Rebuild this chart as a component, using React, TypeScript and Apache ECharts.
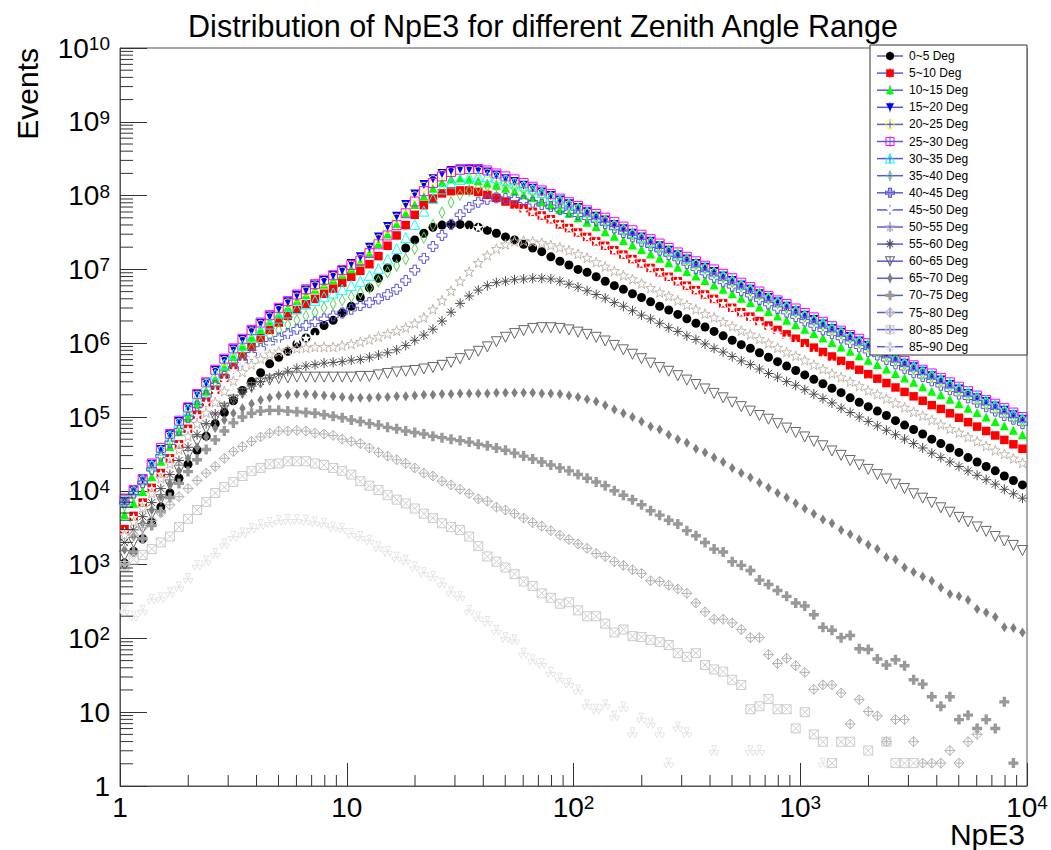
import React, { useEffect, useRef } from "react";
import * as echarts from "echarts";

// ---------------- data ----------------
// NpE3 histogram: 25 log-spaced bins per decade, 1 .. 1e4 (bin centres)
const binMantissa = [1.047, 1.148, 1.259, 1.380, 1.514, 1.660, 1.820, 1.995, 2.188, 2.399, 2.630, 2.884, 3.162, 3.467, 3.802, 4.169, 4.571, 5.012, 5.495, 6.026, 6.607, 7.244, 7.943, 8.710, 9.550];
const binDecades = [1, 10, 100, 1000];
const npe3BinCenters = binDecades.flatMap((d) => binMantissa.map((m) => +(m * d).toPrecision(4)));

const zenithLabels = ["0~5 Deg", "5~10 Deg", "10~15 Deg", "15~20 Deg", "20~25 Deg", "25~30 Deg", "30~35 Deg", "35~40 Deg", "40~45 Deg", "45~50 Deg", "50~55 Deg", "55~60 Deg", "60~65 Deg", "65~70 Deg", "70~75 Deg", "75~80 Deg", "80~85 Deg", "85~90 Deg"];

// log10(Events) per NpE3 bin (null = empty bin)
const logEvents_0_5 = [3.02,3.18,3.35,3.57,3.78,3.97,4.17,4.36,4.55,4.74, 4.91,5.06,5.22,5.36,5.48,5.60,5.72,5.81,5.89,5.99, 6.07,6.15,6.24,6.31,6.41,6.50,6.62,6.75,6.88,7.02, 7.15,7.29,7.40,7.49,7.57,7.60,7.61,7.61,7.60,7.57, 7.53,7.49,7.44,7.40,7.34,7.29,7.24,7.17,7.11,7.06, 7.00,6.96,6.90,6.84,6.78,6.73,6.67,6.62,6.56,6.50, 6.45,6.39,6.33,6.27,6.22,6.16,6.10,6.04,5.98,5.93, 5.87,5.81,5.75,5.69,5.63,5.57,5.51,5.45,5.39,5.33, 5.26,5.20,5.14,5.08,5.02,4.95,4.89,4.83,4.77,4.70, 4.64,4.58,4.52,4.45,4.39,4.33,4.27,4.20,4.14,4.08];
const logEvents_5_10 = [3.48,3.66,3.84,4.04,4.24,4.44,4.63,4.84,5.03,5.20, 5.37,5.53,5.68,5.82,5.95,6.07,6.18,6.28,6.37,6.45, 6.53,6.60,6.67,6.74,6.82,6.90,6.98,7.07,7.18,7.32, 7.46,7.60,7.74,7.87,7.96,8.03,8.06,8.07,8.07,8.05, 8.01,7.97,7.92,7.88,7.83,7.78,7.73,7.68,7.61,7.56, 7.50,7.44,7.38,7.32,7.26,7.20,7.14,7.08,7.02,6.96, 6.90,6.84,6.78,6.72,6.66,6.60,6.54,6.48,6.42,6.36, 6.30,6.24,6.18,6.12,6.06,6.00,5.94,5.88,5.82,5.76, 5.70,5.64,5.58,5.52,5.46,5.40,5.34,5.28,5.22,5.16, 5.11,5.05,4.99,4.93,4.87,4.81,4.75,4.69,4.63,4.57];
const logEvents_10_15 = [3.68,3.83,3.99,4.19,4.40,4.60,4.80,4.99,5.18,5.35, 5.52,5.68,5.82,5.96,6.08,6.19,6.30,6.40,6.49,6.58, 6.66,6.73,6.80,6.86,6.93,7.01,7.10,7.22,7.35,7.48, 7.62,7.76,7.88,7.99,8.10,8.18,8.23,8.24,8.22,8.20, 8.17,8.14,8.10,8.06,8.01,7.97,7.92,7.87,7.81,7.76, 7.70,7.64,7.58,7.51,7.45,7.39,7.33,7.27,7.21,7.15, 7.09,7.03,6.97,6.91,6.85,6.79,6.73,6.67,6.61,6.55, 6.49,6.43,6.37,6.31,6.25,6.19,6.13,6.07,6.01,5.95, 5.89,5.83,5.77,5.71,5.65,5.59,5.53,5.47,5.41,5.35, 5.30,5.24,5.18,5.12,5.06,5.00,4.94,4.88,4.82,4.76];
const logEvents_15_20 = [3.86,4.00,4.15,4.36,4.56,4.76,4.94,5.13,5.31,5.46, 5.63,5.78,5.92,6.05,6.17,6.27,6.37,6.47,6.56,6.65, 6.72,6.79,6.85,6.92,6.99,7.08,7.17,7.30,7.44,7.58, 7.72,7.88,8.02,8.15,8.23,8.30,8.34,8.36,8.36,8.35, 8.32,8.28,8.23,8.19,8.14,8.10,8.05,8.00,7.94,7.89, 7.84,7.78,7.72,7.67,7.61,7.55,7.49,7.44,7.38,7.32, 7.26,7.20,7.14,7.08,7.03,6.97,6.91,6.85,6.79,6.73, 6.67,6.62,6.56,6.50,6.44,6.38,6.32,6.26,6.20,6.15, 6.09,6.03,5.97,5.91,5.85,5.79,5.73,5.68,5.62,5.56, 5.50,5.44,5.38,5.32,5.26,5.21,5.15,5.09,5.03,4.97];
const logEvents_20_25 = [3.85,3.99,4.14,4.34,4.54,4.74,4.92,5.11,5.29,5.45, 5.61,5.76,5.90,6.03,6.15,6.25,6.35,6.45,6.54,6.62, 6.70,6.77,6.83,6.90,6.97,7.05,7.14,7.27,7.41,7.55, 7.69,7.85,7.99,8.12,8.21,8.28,8.32,8.34,8.34,8.33, 8.30,8.26,8.21,8.17,8.12,8.08,8.03,7.98,7.92,7.87, 7.82,7.76,7.70,7.65,7.59,7.53,7.47,7.42,7.36,7.30, 7.24,7.18,7.12,7.06,7.01,6.95,6.89,6.83,6.77,6.71, 6.65,6.60,6.54,6.48,6.42,6.36,6.30,6.24,6.18,6.13, 6.07,6.01,5.95,5.89,5.83,5.77,5.71,5.66,5.60,5.54, 5.48,5.42,5.36,5.30,5.24,5.19,5.13,5.07,5.01,4.95];
const logEvents_25_30 = [3.88,4.01,4.16,4.37,4.58,4.77,4.95,5.13,5.31,5.47, 5.64,5.79,5.93,6.06,6.18,6.28,6.38,6.48,6.57,6.66, 6.73,6.80,6.86,6.92,6.99,7.06,7.12,7.22,7.34,7.46, 7.60,7.76,7.92,8.06,8.17,8.26,8.32,8.35,8.36,8.36, 8.34,8.30,8.26,8.22,8.17,8.12,8.07,8.02,7.96,7.91, 7.86,7.80,7.75,7.70,7.64,7.58,7.53,7.47,7.41,7.35, 7.29,7.23,7.17,7.11,7.05,7.00,6.94,6.88,6.82,6.76, 6.70,6.64,6.58,6.53,6.47,6.41,6.35,6.29,6.23,6.17, 6.11,6.06,6.00,5.94,5.88,5.82,5.76,5.70,5.64,5.59, 5.53,5.47,5.41,5.35,5.29,5.23,5.18,5.12,5.06,5.00];
const logEvents_30_35 = [3.86,4.00,4.15,4.35,4.55,4.74,4.92,5.10,5.27,5.43, 5.58,5.72,5.85,5.97,6.08,6.17,6.26,6.34,6.41,6.47, 6.53,6.58,6.63,6.68,6.73,6.78,6.84,6.92,7.01,7.14, 7.28,7.43,7.61,7.79,7.96,8.09,8.17,8.22,8.25,8.26, 8.26,8.24,8.21,8.17,8.13,8.09,8.04,7.99,7.94,7.89, 7.83,7.78,7.72,7.67,7.61,7.55,7.50,7.44,7.38,7.32, 7.26,7.21,7.15,7.09,7.03,6.97,6.92,6.86,6.80,6.74, 6.68,6.63,6.57,6.51,6.45,6.39,6.33,6.28,6.22,6.16, 6.10,6.04,5.99,5.93,5.87,5.81,5.75,5.69,5.64,5.58, 5.52,5.46,5.40,5.35,5.29,5.23,5.17,5.11,5.05,4.99];
const logEvents_35_40 = [3.80,3.93,4.08,4.27,4.46,4.65,4.83,5.01,5.18,5.33, 5.47,5.60,5.72,5.83,5.93,6.02,6.10,6.18,6.25,6.31, 6.37,6.42,6.48,6.53,6.58,6.63,6.68,6.75,6.84,6.96, 7.05,7.14,7.28,7.43,7.60,7.77,7.91,8.01,8.07,8.11, 8.13,8.13,8.12,8.10,8.07,8.04,8.00,7.96,7.91,7.86, 7.81,7.76,7.71,7.66,7.60,7.54,7.48,7.42,7.36,7.30, 7.25,7.19,7.13,7.07,7.01,6.95,6.89,6.83,6.77,6.71, 6.66,6.60,6.54,6.48,6.42,6.36,6.30,6.24,6.18,6.13, 6.07,6.01,5.95,5.89,5.83,5.77,5.71,5.65,5.59,5.54, 5.48,5.42,5.36,5.30,5.24,5.18,5.12,5.06,5.00,4.95];
const logEvents_40_45 = [3.84,3.97,4.11,4.29,4.47,4.65,4.82,4.99,5.15,5.29, 5.43,5.55,5.66,5.76,5.85,5.93,6.00,6.07,6.13,6.19, 6.24,6.29,6.33,6.37,6.41,6.46,6.51,6.55,6.60,6.66, 6.73,6.85,6.99,7.15,7.31,7.46,7.61,7.74,7.84,7.91, 7.95,7.97,7.96,7.95,7.93,7.91,7.88,7.85,7.81,7.78, 7.74,7.70,7.66,7.62,7.56,7.50,7.44,7.38,7.32,7.26, 7.20,7.14,7.08,7.01,6.95,6.89,6.83,6.77,6.71,6.65, 6.59,6.53,6.47,6.42,6.36,6.30,6.24,6.18,6.13,6.07, 6.01,5.95,5.89,5.84,5.78,5.72,5.66,5.60,5.55,5.49, 5.43,5.37,5.31,5.26,5.20,5.14,5.08,5.02,4.97,4.91];
const logEvents_45_50 = [3.45,3.64,3.83,4.03,4.23,4.44,4.63,4.83,5.02,5.19, 5.35,5.50,5.63,5.74,5.83,5.90,5.95,5.99,6.02,6.05, 6.07,6.09,6.11,6.13,6.15,6.17,6.20,6.23,6.27,6.32, 6.38,6.50,6.66,6.83,7.00,7.16,7.30,7.42,7.51,7.57, 7.63,7.69,7.74,7.78,7.80,7.78,7.73,7.68,7.62,7.56, 7.50,7.44,7.38,7.32,7.26,7.20,7.14,7.08,7.02,6.96, 6.90,6.84,6.78,6.72,6.66,6.60,6.54,6.48,6.42,6.35, 6.28,6.21,6.14,6.07,6.00,5.93,5.86,5.79,5.73,5.66, 5.60,5.53,5.47,5.40,5.34,5.28,5.21,5.15,5.09,5.02, 4.96,4.90,4.84,4.77,4.71,4.65,4.59,4.53,4.47,4.41];
const logEvents_50_55 = [3.40,3.58,3.77,3.97,4.17,4.37,4.56,4.74,4.91,5.06, 5.20,5.35,5.49,5.61,5.71,5.79,5.85,5.89,5.91,5.93, 5.94,5.95,5.95,5.95,5.97,5.99,6.02,6.05,6.09,6.13, 6.17,6.21,6.27,6.35,6.46,6.58,6.71,6.84,6.97,7.09, 7.19,7.28,7.34,7.38,7.39,7.38,7.36,7.33,7.30,7.26, 7.21,7.16,7.10,7.04,6.98,6.92,6.87,6.81,6.75,6.69, 6.64,6.58,6.52,6.46,6.40,6.35,6.29,6.23,6.17,6.12, 6.06,6.00,5.94,5.88,5.83,5.77,5.71,5.65,5.59,5.54, 5.48,5.42,5.36,5.31,5.25,5.19,5.13,5.07,5.02,4.96, 4.90,4.84,4.79,4.73,4.67,4.61,4.55,4.50,4.44,4.38];
const logEvents_55_60 = [3.30,3.47,3.65,3.84,4.03,4.22,4.41,4.59,4.76,4.91, 5.04,5.15,5.25,5.34,5.42,5.48,5.53,5.58,5.62,5.66, 5.69,5.71,5.73,5.74,5.75,5.77,5.78,5.81,5.84,5.87, 5.91,5.97,6.04,6.11,6.19,6.30,6.42,6.54,6.64,6.72, 6.78,6.82,6.84,6.86,6.87,6.88,6.88,6.87,6.84,6.80, 6.76,6.71,6.66,6.61,6.55,6.50,6.44,6.38,6.33,6.27, 6.21,6.16,6.10,6.05,5.99,5.93,5.88,5.82,5.76,5.71, 5.65,5.59,5.54,5.48,5.43,5.37,5.31,5.25,5.19,5.12, 5.06,5.00,4.94,4.88,4.82,4.76,4.70,4.64,4.58,4.51, 4.45,4.39,4.33,4.27,4.21,4.15,4.09,4.02,3.96,3.90];
const logEvents_60_65 = [3.12,3.30,3.49,3.68,3.88,4.08,4.28,4.48,4.67,4.84, 4.99,5.12,5.23,5.32,5.40,5.46,5.50,5.52,5.53,5.54, 5.54,5.54,5.54,5.54,5.54,5.54,5.55,5.55,5.57,5.59, 5.61,5.62,5.63,5.65,5.67,5.70,5.74,5.79,5.84,5.89, 5.95,6.02,6.08,6.13,6.17,6.20,6.21,6.21,6.20,6.18, 6.15,6.12,6.08,6.03,5.97,5.91,5.85,5.79,5.73,5.67, 5.62,5.56,5.50,5.44,5.38,5.32,5.26,5.20,5.14,5.08, 5.02,4.97,4.91,4.85,4.79,4.73,4.67,4.61,4.54,4.48, 4.41,4.35,4.29,4.22,4.16,4.09,4.03,3.96,3.90,3.84, 3.77,3.71,3.64,3.58,3.51,3.45,3.38,3.32,3.26,3.19];
const logEvents_65_70 = [3.20,3.38,3.56,3.74,3.92,4.10,4.27,4.44,4.59,4.73, 4.85,4.96,5.05,5.12,5.18,5.23,5.26,5.29,5.30,5.31, 5.31,5.30,5.29,5.28,5.27,5.26,5.26,5.26,5.27,5.27, 5.28,5.28,5.29,5.30,5.30,5.31,5.31,5.32,5.32,5.32, 5.32,5.33,5.33,5.33,5.33,5.33,5.32,5.32,5.31,5.29, 5.27,5.24,5.21,5.16,5.10,5.05,5.00,4.94,4.87,4.83, 4.76,4.70,4.65,4.57,4.52,4.45,4.39,4.31,4.24,4.18, 4.11,4.04,3.97,3.91,3.83,3.76,3.69,3.61,3.56,3.47, 3.41,3.34,3.27,3.21,3.10,3.07,2.96,2.90,2.84,2.78, 2.69,2.60,2.57,2.52,2.40,2.35,2.29,2.15,2.14,2.08];
const logEvents_70_75 = [3.00,3.17,3.35,3.53,3.72,3.91,4.10,4.26,4.42,4.56, 4.69,4.81,4.92,5.00,5.05,5.08,5.09,5.09,5.08,5.07, 5.06,5.05,5.03,5.01,4.99,4.96,4.94,4.91,4.89,4.86, 4.84,4.81,4.79,4.77,4.74,4.72,4.70,4.68,4.66,4.63, 4.61,4.58,4.55,4.51,4.47,4.43,4.39,4.35,4.31,4.27, 4.22,4.17,4.12,4.07,4.00,3.94,3.88,3.81,3.73,3.67, 3.60,3.55,3.46,3.39,3.30,3.21,3.17,3.04,2.99,2.92, 2.79,2.73,2.65,2.57,2.48,2.44,2.32,2.15,2.11,2.01, 2.04,1.86,1.85,1.72,1.64,1.71,1.63,1.44,1.38,1.21, 1.08,1.21,0.90,0.96,0.78,0.90,0.78,1.14,0.31,null];
const logEvents_75_80 = [3.30,3.40,3.50,3.60,3.70,3.81,3.92,4.03,4.14,4.24, 4.33,4.44,4.53,4.60,4.67,4.73,4.78,4.81,4.81,4.82, 4.81,4.78,4.77,4.75,4.70,4.67,4.64,4.58,4.52,4.47, 4.42,4.37,4.31,4.24,4.20,4.13,4.08,4.02,3.96,3.89, 3.86,3.78,3.74,3.69,3.63,3.57,3.52,3.46,3.40,3.34, 3.28,3.22,3.15,3.11,3.04,2.99,2.93,2.88,2.78,2.77, 2.72,2.67,2.61,2.48,2.36,2.26,2.26,2.21,2.12,2.01, 2.01,1.78,1.66,1.73,1.63,1.54,1.31,1.37,1.37,1.26, 0.84,1.17,1.01,0.95,0.60,0.90,0.90,0.60,0.31,0.31, 0.31,0.48,0.31,0.60,0.70,null,null,null,null,null];
const logEvents_80_85 = [2.98,3.07,3.13,3.21,3.30,3.38,3.51,3.62,3.74,3.85, 3.97,4.05,4.12,4.20,4.27,4.31,4.36,4.37,4.40,4.40, 4.40,4.37,4.35,4.31,4.27,4.22,4.13,4.07,4.01,3.94, 3.88,3.83,3.76,3.69,3.63,3.56,3.51,3.47,3.38,3.25, 3.11,3.04,2.96,2.87,2.77,2.71,2.61,2.55,2.47,2.49, 2.38,2.30,2.30,2.20,2.08,2.12,2.03,2.02,1.98,1.95, 1.91,1.80,1.75,1.80,1.64,1.58,1.55,1.44,1.37,1.04, 1.08,1.18,1.04,1.04,0.78,1.00,0.70,0.60,0.31,0.60, 0.60,null,0.48,null,0.60,0.31,0.31,0.31,null,null, null,null,null,null,null,null,null,null,null,null];
const logEvents_85_90 = [2.38,2.30,2.38,2.53,2.55,2.62,2.70,2.81,2.99,3.05, 3.15,3.28,3.38,3.43,3.49,3.54,3.57,3.60,3.61,3.61, 3.60,3.58,3.56,3.51,3.49,3.42,3.38,3.33,3.24,3.18, 3.10,3.06,2.97,2.89,2.84,2.75,2.63,2.57,2.38,2.29, 2.23,2.11,2.01,1.98,1.80,1.71,1.66,1.54,1.46,1.39, 1.30,1.10,1.04,1.10,0.95,1.07,0.72,0.92,0.85,0.72, 0.31,0.80,0.72,null,null,0.48,null,null,null,0.48, 0.48,null,null,null,null,null,null,0.31,null,null, null,null,null,null,null,null,null,null,null,null, null,null,null,null,null,null,null,null,null,null];

const allLogEvents = [logEvents_0_5, logEvents_5_10, logEvents_10_15, logEvents_15_20, logEvents_20_25, logEvents_25_30, logEvents_30_35, logEvents_35_40, logEvents_40_45, logEvents_45_50, logEvents_50_55, logEvents_55_60, logEvents_60_65, logEvents_65_70, logEvents_70_75, logEvents_75_80, logEvents_80_85, logEvents_85_90];

// minor tick multipliers for the log axes
const minorMultipliers = [2, 3, 4, 5, 6, 7, 8, 9];
const xDecades = [1, 10, 100, 1000];
const yDecades = [1, 10, 100, 1e3, 1e4, 1e5, 1e6, 1e7, 1e8, 1e9];

// ---------------- marker shapes (ROOT marker styles 20..37) ----------------
const PATHS: Record<string, string> = {
  circle: "M0,5A5,5 0 1 1 10,5A5,5 0 1 1 0,5Z",
  square: "M0,0H10V10H0Z",
  triUp: "M5,0L10,10H0Z",
  triDown: "M0,0H10L5,10Z",
  diamond: "M5,0L10,5L5,10L0,5Z",
  cross: "M3.3,0H6.7V3.3H10V6.7H6.7V10H3.3V6.7H0V3.3H3.3Z",
  star: "M5,0L6.18,3.38L9.76,3.45L6.9,5.62L7.94,9.05L5,7L2.06,9.05L3.1,5.62L0.24,3.45L3.82,3.38Z",
  aster: "M5,0V10M0,5H10M1.5,1.5L8.5,8.5M8.5,1.5L1.5,8.5",
  diaCross: "M5,0L10,5L5,10L0,5ZM5,0V10M0,5H10",
  sqX: "M0,0H10V10H0ZM0,0L10,10M10,0L0,10",
  tri3: "M5,5L2.5,0.67H7.5ZM5,5L0,5L2.5,9.33ZM5,5H10L7.5,9.33Z",
};

type Marker = { shape: string; color: string; filled: boolean; w: number; h: number };
const markers: Marker[] = [
  { shape: "circle", color: "#000000", filled: true, w: 9, h: 9 },
  { shape: "square", color: "#ff0000", filled: true, w: 8.5, h: 8.5 },
  { shape: "triUp", color: "#00ff00", filled: true, w: 9, h: 9 },
  { shape: "triDown", color: "#0000ff", filled: true, w: 9, h: 9 },
  { shape: "circle", color: "#ffff00", filled: false, w: 9, h: 9 },
  { shape: "square", color: "#ff00ff", filled: false, w: 9, h: 9 },
  { shape: "triUp", color: "#00ffff", filled: false, w: 10, h: 10 },
  { shape: "diamond", color: "#59d454", filled: false, w: 6, h: 11 },
  { shape: "cross", color: "#5954d9", filled: false, w: 10, h: 10 },
  { shape: "star", color: "#ffffff", filled: true, w: 10, h: 10 },
  { shape: "star", color: "#c0b6ac", filled: false, w: 10, h: 10 },
  { shape: "aster", color: "#4c4c4c", filled: false, w: 10, h: 10 },
  { shape: "triDown", color: "#666666", filled: false, w: 10, h: 10 },
  { shape: "diamond", color: "#7f7f7f", filled: true, w: 6.5, h: 10 },
  { shape: "cross", color: "#999999", filled: true, w: 10, h: 10 },
  { shape: "diaCross", color: "#b2b2b2", filled: false, w: 10, h: 10 },
  { shape: "sqX", color: "#cccccc", filled: false, w: 9, h: 9 },
  { shape: "tri3", color: "#e5e5e5", filled: false, w: 10, h: 10 },
];

let shapesRegistered = false;
function registerShapes() {
  if (shapesRegistered) return;
  Object.keys(PATHS).forEach((k) => {
    echarts.graphic.registerShape("mk_" + k, echarts.graphic.extendPath(PATHS[k], {}) as any);
  });
  shapesRegistered = true;
}

const FONT = "Liberation Sans, Arial, Helvetica, sans-serif";

function logLabel(v: number) {
  const e = Math.round(Math.log10(v));
  if (e === 0) return "{b|1}";
  if (e === 1) return "{b|10}";
  return "{b|10}{s|" + e + "}";
}

const labelRich = {
  b: { fontSize: 28, fontFamily: FONT, color: "#000", lineHeight: 28, padding: [8, 0, 8, 0] },
  s: { fontSize: 19, fontFamily: FONT, color: "#000", lineHeight: 19, verticalAlign: "top" },
};

export default function App() {
  const ref = useRef<HTMLDivElement>(null);
  useEffect(() => {
    if (!ref.current) return;
    registerShapes();
    const chart = echarts.init(ref.current, undefined, { renderer: "svg" });

    const scatterSeries = allLogEvents.map((logs, i) => {
      const m = markers[i];
      const data = npe3BinCenters
        .map((x, k) => (logs[k] == null ? null : [x, Math.pow(10, logs[k] as number)]))
        .filter((d) => d !== null);
      return {
        type: "scatter",
        name: zenithLabels[i],
        data,
        symbol: "path://" + PATHS[m.shape],
        symbolSize: [m.w, m.h],
        itemStyle: m.filled
          ? { color: m.color, borderWidth: 0, opacity: 1 }
          : { color: "rgba(0,0,0,0)", borderColor: m.color, borderWidth: 1, opacity: 1 },
        emphasis: { disabled: true },
        silent: true,
        z: 3,
      };
    });

    const xMinor = xDecades.flatMap((d) => minorMultipliers.map((m) => m * d));
    const yMinor = yDecades.flatMap((d) => minorMultipliers.map((m) => m * d));

    const tickColor = "#333";
    const xMinorSeries = {
      type: "custom",
      silent: true,
      z: 4,
      data: xMinor.map((v) => [v, 1]),
      encode: { x: 0, y: 1 },
      renderItem: (_p: any, api: any) => {
        const pt = api.coord([api.value(0), 1]);
        return { type: "line", shape: { x1: pt[0], y1: pt[1], x2: pt[0], y2: pt[1] - 11 }, style: { stroke: tickColor, lineWidth: 1 } };
      },
    };
    const yMinorSeries = {
      type: "custom",
      silent: true,
      z: 4,
      data: yMinor.map((v) => [1, v]),
      encode: { x: 0, y: 1 },
      renderItem: (_p: any, api: any) => {
        const pt = api.coord([1, api.value(1)]);
        return { type: "line", shape: { x1: pt[0], y1: pt[1], x2: pt[0] + 13, y2: pt[1] }, style: { stroke: tickColor, lineWidth: 1 } };
      },
    };

    // legend (ROOT TLegend look)
    const legendX = 870, legendY = 45, legendW = 157, legendH = 310;
    const rowY0 = 56, rowStep = 17.1;
    const legendEls: any[] = [
      { type: "rect", z: 100, shape: { x: legendX, y: legendY, width: legendW, height: legendH }, style: { fill: "#fff", stroke: "#333", lineWidth: 1 } },
    ];
    zenithLabels.forEach((lab, i) => {
      const y = rowY0 + i * rowStep;
      const m = markers[i];
      const w = m.w * 0.9, h = m.h * 0.9;
      legendEls.push({ type: "line", z: 101, shape: { x1: 877, y1: y, x2: 903, y2: y }, style: { stroke: "#5a5ad8", lineWidth: 1.5 } });
      legendEls.push({ type: "line", z: 101, shape: { x1: 890, y1: y - 5, x2: 890, y2: y + 5 }, style: { stroke: "#5a5ad8", lineWidth: 1 } });
      legendEls.push({
        type: "mk_" + m.shape,
        z: 102,
        x: 890 - w / 2,
        y: y - h / 2,
        scaleX: w / 10,
        scaleY: h / 10,
        style: m.filled
          ? { fill: m.color, stroke: "none" }
          : { fill: "none", stroke: m.color, lineWidth: 10 / Math.max(w, h) },
      });
      legendEls.push({
        type: "text",
        z: 102,
        x: 909,
        y: y,
        style: { text: lab, fontSize: 12, fontFamily: FONT, fill: "#000", textAlign: "left", textVerticalAlign: "middle", align: "left", verticalAlign: "middle" },
      });
    });

    const axisTitles: any[] = [
      {
        type: "text",
        x: 27,
        y: 48,
        rotation: Math.PI / 2,
        style: { text: "Events", fontSize: 30, fontFamily: FONT, fill: "#000", textAlign: "right", textVerticalAlign: "middle", align: "right", verticalAlign: "middle" },
      },
      {
        type: "text",
        x: 1025,
        y: 834,
        style: { text: "NpE3", fontSize: 30, fontFamily: FONT, fill: "#000", textAlign: "right", textVerticalAlign: "middle", align: "right", verticalAlign: "middle" },
      },
    ];

    chart.setOption({
      animation: false,
      backgroundColor: "#ffffff",
      title: {
        text: "Distribution of NpE3 for different Zenith Angle Range",
        left: 538,
        top: 5,
        textAlign: "center",
        textStyle: { fontSize: 30.5, fontWeight: "normal", fontFamily: FONT, color: "#000" },
      },
      grid: { left: 120, top: 48, width: 907, height: 738, show: true, borderColor: "#555", borderWidth: 1, backgroundColor: "transparent" },
      xAxis: {
        type: "log",
        logBase: 10,
        min: 1,
        max: 10000,
        interval: 1,
        axisLine: { show: true, onZero: false, lineStyle: { color: "#555", width: 1 } },
        axisTick: { show: true, inside: true, length: 23, lineStyle: { color: tickColor, width: 1 } },
        axisLabel: { formatter: logLabel, rich: labelRich, margin: 7, showMinLabel: true, showMaxLabel: true },
        splitLine: { show: false },
      },
      yAxis: {
        type: "log",
        logBase: 10,
        min: 1,
        max: 1e10,
        interval: 1,
        axisLine: { show: true, onZero: false, lineStyle: { color: "#555", width: 1 } },
        axisTick: { show: true, inside: true, length: 27, lineStyle: { color: tickColor, width: 1 } },
        axisLabel: { formatter: logLabel, rich: labelRich, margin: 10, showMinLabel: true, showMaxLabel: true },
        splitLine: { show: false },
      },
      graphic: [...legendEls, ...axisTitles],
      series: [xMinorSeries, yMinorSeries, ...scatterSeries],
    } as any);

    return () => chart.dispose();
  }, []);

  return <div ref={ref} style={{ position: "absolute", left: 0, top: 0, width: 1051, height: 850, background: "#fff" }} />;
}
